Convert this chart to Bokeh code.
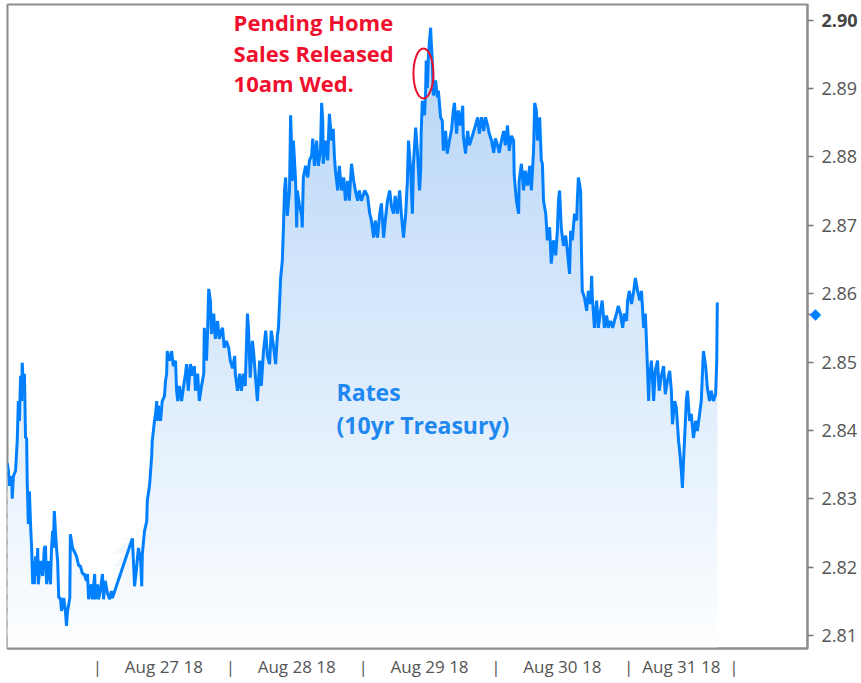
import numpy as np
from bokeh.plotting import figure
from bokeh.models import Range1d, FixedTicker, PrintfTickFormatter, LinearAxis
from bokeh.core.properties import value
from bokeh.embed import file_html
from bokeh.resources import INLINE

# Trading time in hours (weekend removed): Aug 24 00:00 = 0, Aug 27 00:00 = 24, ...
# Each list: (hour, 10yr Treasury yield)
aug24 = [(7.7,2.8352),(7.9,2.8341),(8.1,2.8319),(8.3,2.8333),(8.5,2.8329),(8.6,2.8300),(8.8,2.8333),(9.2,2.8341),
         (9.5,2.8385),(9.7,2.8443),(9.9,2.8414),(10.1,2.8480),(10.3,2.8443),(10.4,2.8499),(10.6,2.8465),(10.8,2.8483),
         (11.0,2.8389),(11.2,2.8389),(11.3,2.8326),(11.5,2.8263),(11.7,2.8311),(11.9,2.8263),(12.1,2.8228),(12.3,2.8175),
         (12.4,2.8209),(12.6,2.8175),(12.8,2.8216),(13.0,2.8187),(13.2,2.8228),(13.3,2.8175),(13.7,2.8209),(14.1,2.8187),
         (14.4,2.8228),(14.6,2.8231),(14.8,2.8175),(15.1,2.8209),(15.5,2.8175),(15.7,2.8228),(15.9,2.8253),(16.0,2.8228),
         (16.2,2.8282),(16.4,2.8253),(16.6,2.8228),(16.8,2.8209),(17.0,2.8155),(17.3,2.8155),(17.5,2.8136),(17.9,2.8155),
         (18.2,2.8136),(18.4,2.8114),(18.6,2.8136),(19.0,2.8155),(19.1,2.8248),(19.5,2.8228),(19.8,2.8223),(20.2,2.8216),
         (20.6,2.8202),(20.9,2.8202),(21.3,2.8190),(21.6,2.8190),(22.0,2.8180),(22.2,2.8190),(22.4,2.8153),(22.7,2.8165),
         (22.9,2.8175),(23.1,2.8153),(23.5,2.8190),(23.6,2.8153)]
aug27 = [(24.0,2.8175),(24.2,2.8153),(24.5,2.8165),(24.9,2.8190),(25.1,2.8153),(25.4,2.8180),(25.8,2.8162),(26.2,2.8153),
         (26.5,2.8165),(26.7,2.8155),(30.3,2.8242),(30.5,2.8209),(30.7,2.8172),(31.0,2.8194),(31.4,2.8228),(31.8,2.8209),
         (32.0,2.8172),(32.1,2.8219),(32.5,2.8253),(32.9,2.8267),(33.0,2.8297),(33.4,2.8319),(33.6,2.8341),(33.8,2.8363),
         (33.9,2.8385),(34.1,2.8399),(34.3,2.8414),(34.5,2.8424),(34.7,2.8443),(34.8,2.8414),(35.0,2.8436),(35.4,2.8414),
         (35.7,2.8443),(36.1,2.8450),(36.3,2.8473),(36.5,2.8483),(36.6,2.8516),(37.0,2.8502),(37.4,2.8516),(37.7,2.8494),
         (38.1,2.8502),(38.3,2.8458),(38.5,2.8443),(38.8,2.8465),(39.2,2.8443),(39.5,2.8461),(39.9,2.8483),(40.1,2.8497),
         (40.4,2.8458),(40.8,2.8497),(41.2,2.8480),(41.5,2.8494),(41.7,2.8458),(42.1,2.8483),(42.4,2.8443),(42.8,2.8465),
         (43.2,2.8483),(43.3,2.8550),(43.7,2.8502),(43.9,2.8546),(44.1,2.8607),(44.4,2.8590),(44.6,2.8541),(45.0,2.8571),
         (45.3,2.8534),(45.7,2.8560),(46.0,2.8534),(46.4,2.8546),(46.6,2.8550),(46.9,2.8521),(47.3,2.8531),(47.7,2.8521)]
aug28 = [(48.0,2.8502),(48.4,2.8491),(48.8,2.8509),(48.9,2.8483),(49.3,2.8458),(49.7,2.8483),(50.0,2.8458),(50.4,2.8483),
         (50.7,2.8465),(51.1,2.8571),(51.3,2.8546),(51.6,2.8477),(52.0,2.8531),(52.2,2.8516),(52.6,2.8473),(52.9,2.8443),
         (53.3,2.8502),(53.6,2.8465),(54.0,2.8516),(54.4,2.8546),(54.7,2.8509),(55.1,2.8497),(55.4,2.8546),(55.8,2.8524),
         (56.2,2.8497),(56.5,2.8538),(56.7,2.8550),(57.1,2.8623),(57.4,2.8648),(57.6,2.8697),(57.8,2.8751),(58.0,2.8770),
         (58.3,2.8714),(58.7,2.8751),(58.9,2.8861),(59.1,2.8809),(59.2,2.8765),(59.4,2.8824),(59.6,2.8795),(59.8,2.8765),
         (60.0,2.8697),(60.1,2.8751),(60.5,2.8729),(60.9,2.8714),(61.0,2.8697),(61.2,2.8770),(61.6,2.8787),(62.0,2.8770),
         (62.3,2.8795),(62.7,2.8802),(62.9,2.8827),(63.2,2.8787),(63.6,2.8824),(63.9,2.8787),(64.3,2.8809),(64.5,2.8879),
         (64.7,2.8853),(64.8,2.8790),(65.2,2.8824),(65.6,2.8795),(65.9,2.8863),(66.3,2.8824),(66.6,2.8841),(66.8,2.8802),
         (67.0,2.8780),(67.4,2.8751),(67.7,2.8787),(68.1,2.8751),(68.5,2.8770),(68.8,2.8736),(69.2,2.8765),(69.5,2.8736),
         (69.9,2.8790),(70.3,2.8765),(70.6,2.8751),(71.0,2.8736),(71.3,2.8751),(71.7,2.8736)]
aug29 = [(72.3,2.8751),(72.8,2.8743),(73.2,2.8717),(73.5,2.8707),(73.9,2.8682),(74.2,2.8707),(74.6,2.8682),(75.0,2.8717),
         (75.3,2.8732),(75.7,2.8682),(76.0,2.8707),(76.4,2.8736),(76.8,2.8751),(77.1,2.8729),(77.5,2.8717),(77.8,2.8743),
         (78.2,2.8717),(78.6,2.8751),(78.9,2.8717),(79.3,2.8682),(79.7,2.8717),(80.0,2.8765),(80.2,2.8824),(80.6,2.8780),
         (80.9,2.8717),(81.1,2.8790),(81.5,2.8843),(81.8,2.8809),(82.2,2.8751),(82.4,2.8780),(82.5,2.8838),(82.7,2.8882),
         (83.1,2.8861),(83.3,2.8897),(83.4,2.8941),(83.6,2.8901),(83.8,2.8948),(84.0,2.8970),(84.2,2.8989),(84.3,2.8970),
         (84.5,2.8941),(84.7,2.8890),(85.1,2.8912),(85.4,2.8887),(85.6,2.8897),(86.0,2.8858),(86.3,2.8853),(86.5,2.8809),
         (86.9,2.8838),(87.2,2.8805),(87.6,2.8824),(88.0,2.8841),(88.3,2.8868),(88.5,2.8879),(88.9,2.8834),(89.2,2.8868),
         (89.6,2.8846),(90.0,2.8875),(90.1,2.8831),(90.5,2.8805),(90.9,2.8838),(91.2,2.8817),(91.6,2.8827),(92.0,2.8838),
         (92.3,2.8846),(92.7,2.8858),(93.0,2.8834),(93.4,2.8858),(93.8,2.8838),(94.1,2.8858),(94.5,2.8846),(94.8,2.8834),
         (95.2,2.8824),(95.6,2.8806)]
aug30 = [(95.9,2.8827),(96.3,2.8817),(96.6,2.8806),(97.0,2.8824),(97.4,2.8838),(97.7,2.8817),(98.1,2.8846),(98.4,2.8809),
         (98.8,2.8831),(99.2,2.8824),(99.3,2.8773),(99.7,2.8736),(100.1,2.8717),(100.2,2.8765),(100.6,2.8790),(101.0,2.8751),
         (101.3,2.8780),(101.7,2.8758),(102.1,2.8787),(102.4,2.8751),(102.8,2.8809),(103.0,2.8879),(103.3,2.8868),(103.5,2.8824),
         (103.9,2.8858),(104.2,2.8795),(104.4,2.8790),(104.6,2.8736),(105.0,2.8717),(105.3,2.8678),(105.7,2.8697),(106.0,2.8644),
         (106.4,2.8678),(106.8,2.8656),(107.1,2.8692),(107.3,2.8736),(107.5,2.8751),(107.8,2.8697),(108.2,2.8670),(108.6,2.8685),
         (108.9,2.8663),(109.3,2.8629),(109.5,2.8692),(109.8,2.8678),(110.2,2.8717),(110.6,2.8707),(110.7,2.8736),(110.9,2.8770),
         (111.3,2.8751),(111.5,2.8641),(111.6,2.8604),(112.0,2.8594),(112.4,2.8575),(112.7,2.8604),(113.1,2.8585),(113.3,2.8626),
         (113.4,2.8597),(113.8,2.8550),(114.2,2.8590),(114.5,2.8550),(114.9,2.8575),(115.2,2.8590),(115.6,2.8550),(116.0,2.8568),
         (116.3,2.8550),(116.7,2.8560),(117.1,2.8550),(117.4,2.8560),(117.8,2.8571),(118.1,2.8582),(118.5,2.8571),(118.9,2.8550),
         (119.2,2.8571),(119.6,2.8560),(119.8,2.8590)]
aug31 = [(120.1,2.8604),(120.5,2.8585),(120.9,2.8604),(121.2,2.8623),(121.6,2.8604),(122.0,2.8590),(122.3,2.8604),(122.7,2.8550),
         (123.0,2.8571),(123.2,2.8531),(123.6,2.8443),(123.7,2.8473),(124.1,2.8502),(124.5,2.8443),(124.8,2.8487),(125.2,2.8502),
         (125.5,2.8458),(125.9,2.8480),(126.3,2.8494),(126.6,2.8453),(127.0,2.8473),(127.4,2.8487),(127.7,2.8458),(127.9,2.8409),
         (128.3,2.8443),(128.6,2.8433),(129.0,2.8385),(129.2,2.8370),(129.5,2.8341),(129.7,2.8316),(129.9,2.8356),(130.1,2.8389),
         (130.4,2.8443),(130.6,2.8458),(131.0,2.8414),(131.3,2.8424),(131.7,2.8389),(132.1,2.8414),(132.4,2.8399),(132.8,2.8424),
         (133.1,2.8443),(133.5,2.8516),(133.9,2.8494),(134.2,2.8462),(134.6,2.8443),(134.9,2.8458),(135.3,2.8443),(135.7,2.8453),
         (135.9,2.8502),(136.0,2.8587)]

day_separators = [24, 48, 72, 96, 120, 139]
day_label_pos = [36, 60, 84, 108, 129.5]
day_labels = ["Aug 27 18", "Aug 28 18", "Aug 29 18", "Aug 30 18", "Aug 31 18"]
y_ticks = [2.81, 2.82, 2.83, 2.84, 2.85, 2.86, 2.87, 2.88, 2.89, 2.90]
y_max_tick = 2.90
last_price = 2.857
release_hour, release_rate = 82.9, 2.8922   # Pending Home Sales release (10am Wed)

x_start, x_end = 7.74, 152.3
y_start, y_end = 2.8081, 2.9023

segments = [aug24, aug27, aug28, aug29, aug30, aug31]
t = np.array([h for seg in segments for h, _ in seg])
r = np.array([v for seg in segments for _, v in seg])

p = figure(width=861, height=683, output_backend="svg", toolbar_location=None,
           x_range=Range1d(x_start, x_end), y_range=Range1d(y_start, y_end),
           y_axis_location=None, min_border_left=7, min_border_top=4,
           min_border_right=54, min_border_bottom=35)
p.background_fill_color = "white"
p.border_fill_color = "white"
p.grid.visible = False
p.outline_line_color = "#8c8c8c"
p.outline_line_width = 2

# gradient fill under the line (horizontal bands)
nb = 46
levels = np.linspace(y_start, 2.8995, nb + 1)
top_c = np.array([180, 212, 247])
bot_c = np.array([253, 254, 255])
step = levels[1] - levels[0]
for k in range(nb):
    lo, hi = levels[k], levels[k + 1]
    frac = ((lo + hi) / 2 - y_start) / (2.8995 - y_start)
    c = bot_c + frac * (top_c - bot_c)
    col = "#%02x%02x%02x" % tuple(int(round(v)) for v in c)
    y2 = np.clip(r, lo, hi + step * 0.6)
    p.varea(x=t, y1=np.full(len(t), lo), y2=y2, fill_color=col)

p.line(t, r, line_color="#0080ff", line_width=3)

# release marker
p.ellipse(x=[release_hour], y=[release_rate], width=3.6, height=0.0073,
          fill_color=None, line_color="#e8112d", line_width=2)

p.text(x=[48.6], y=[2.9019], text=["Pending Home\nSales Released\n10am Wed."],
       text_font=value("Open Sans"), text_font_style="bold", text_font_size="22px",
       text_color="#f0102e", text_baseline="top", text_align="left", text_line_height=1.02)
p.text(x=[67.2], y=[2.8480], text=["Rates\n(10yr Treasury)"],
       text_font=value("Open Sans"), text_font_style="bold", text_font_size="23px",
       text_color="#1e88f0", text_baseline="top", text_align="left", text_line_height=1.04)

# x axis: day separators "|" and day labels
xa = p.xaxis[0]
xa.ticker = FixedTicker(ticks=day_separators + day_label_pos)
overrides = {s: "|" for s in day_separators}
overrides.update({pos: lab for pos, lab in zip(day_label_pos, day_labels)})
xa.major_label_overrides = overrides
xa.major_tick_line_color = None
xa.minor_tick_line_color = None
xa.axis_line_color = "#8c8c8c"
xa.axis_line_width = 2
xa.major_label_text_color = "#555555"
xa.major_label_text_font = "Open Sans"
xa.major_label_text_font_size = "17px"
xa.major_label_standoff = 0

# price axis line + tick marks, carrying the blue last-price diamond
marker_labels = {v: "" for v in y_ticks}
marker_labels[last_price] = "\u25c6"
line_axis = LinearAxis(ticker=FixedTicker(ticks=y_ticks + [last_price]),
                       major_label_overrides=marker_labels,
                       axis_line_color="#8c8c8c", axis_line_width=2,
                       major_tick_line_color="#777777", major_tick_line_width=1.5,
                       major_tick_in=0, major_tick_out=6, minor_tick_line_color=None,
                       major_label_standoff=-4, major_label_text_color="#0080ff",
                       major_label_text_font="DejaVu Sans", major_label_text_font_size="15px")
p.add_layout(line_axis, "right")

# price labels
label_axis = LinearAxis(ticker=FixedTicker(ticks=y_ticks),
                        formatter=PrintfTickFormatter(format="%.2f"),
                        major_label_overrides={y_max_tick: ""},
                        axis_line_color=None, major_tick_line_color=None, minor_tick_line_color=None,
                        major_tick_in=0, major_tick_out=0, major_label_standoff=-3,
                        major_label_text_color="#555555", major_label_text_font="Open Sans",
                        major_label_text_font_size="18px")
p.add_layout(label_axis, "right")

# bold top price label
top_axis = LinearAxis(ticker=FixedTicker(ticks=[y_max_tick]),
                      formatter=PrintfTickFormatter(format="%.2f"),
                      axis_line_color=None, major_tick_line_color=None, minor_tick_line_color=None,
                      major_tick_in=0, major_tick_out=0, major_label_standoff=-39,
                      major_label_text_color="#444444", major_label_text_font="Open Sans",
                      major_label_text_font_style="bold", major_label_text_font_size="18px")
p.add_layout(top_axis, "right")

open("out.html", "w").write(file_html(p, INLINE))
